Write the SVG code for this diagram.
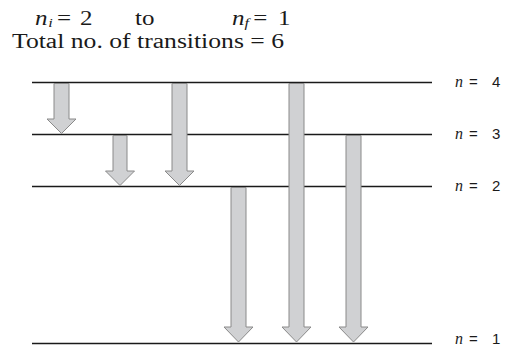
<svg xmlns="http://www.w3.org/2000/svg" width="505" height="348" viewBox="0 0 505 348">
<style>
.lvl{stroke:#1a1a1a;stroke-width:1.6;fill:none}
.arr{fill:#d0d1d3;stroke:#8a8a8a;stroke-width:1}
.ser{font-family:"Liberation Serif","Times New Roman",serif;font-size:20px;fill:#1a1a1a}
.it{font-style:italic}
.sub{font-size:13px;font-style:italic}
.lab{font-family:"Liberation Sans",Arial,sans-serif;font-size:15px;fill:#1a1a1a}
.labn{font-family:"Liberation Serif","Times New Roman",serif;font-style:italic;font-size:16px}
</style>
<g id="title">
<g transform="scale(1.25,1)">
<text class="ser" y="25"><tspan x="28" class="it">n</tspan><tspan x="38.6" dy="1.8" class="sub">i</tspan><tspan x="45.6" dy="-1.8">=</tspan><tspan x="64">2</tspan><tspan x="108">to</tspan><tspan x="185.6" class="it">n</tspan><tspan x="195.6" dy="1.8" class="sub">f</tspan><tspan x="202.6" dy="-1.8">=</tspan><tspan x="222.4">1</tspan></text>
</g>
<text class="ser" x="12" y="47.5" textLength="272" lengthAdjust="spacingAndGlyphs">Total no. of transitions = 6</text>
</g>
<g id="n4">
<line class="lvl" x1="32" y1="82.5" x2="432" y2="82.5"/>
<text class="lab" y="87"><tspan class="labn" x="455">n</tspan><tspan x="469">=</tspan><tspan x="492">4</tspan></text>
</g>
<g id="n3">
<line class="lvl" x1="32" y1="134.5" x2="432" y2="134.5"/>
<text class="lab" y="139"><tspan class="labn" x="455">n</tspan><tspan x="469">=</tspan><tspan x="492">3</tspan></text>
</g>
<g id="n2">
<line class="lvl" x1="32" y1="186.5" x2="432" y2="186.5"/>
<text class="lab" y="191"><tspan class="labn" x="455">n</tspan><tspan x="469">=</tspan><tspan x="492">2</tspan></text>
</g>
<g id="n1">
<line class="lvl" x1="32" y1="343.5" x2="432" y2="343.5"/>
<text class="lab" y="344"><tspan class="labn" x="455">n</tspan><tspan x="469">=</tspan><tspan x="492">1</tspan></text>
</g>
<g id="connectors">
<path class="arr" d="M54,83.5 H69 V119 H76 L61.5,133.5 L47,119 H54 Z"/>
<path class="arr" d="M113,135.5 H127 V171 H134.5 L120,185.5 L105.5,171 H113 Z"/>
<path class="arr" d="M172,83.5 H187 V171 H194 L179.5,185.5 L165,171 H172 Z"/>
<path class="arr" d="M231,187.5 H246 V327 H253 L238.5,342 L224,327 H231 Z"/>
<path class="arr" d="M289,83.5 H304 V327 H311 L296.5,342 L282,327 H289 Z"/>
<path class="arr" d="M346,135.5 H361 V327 H368 L353.5,342 L339,327 H346 Z"/>
</g>
</svg>
